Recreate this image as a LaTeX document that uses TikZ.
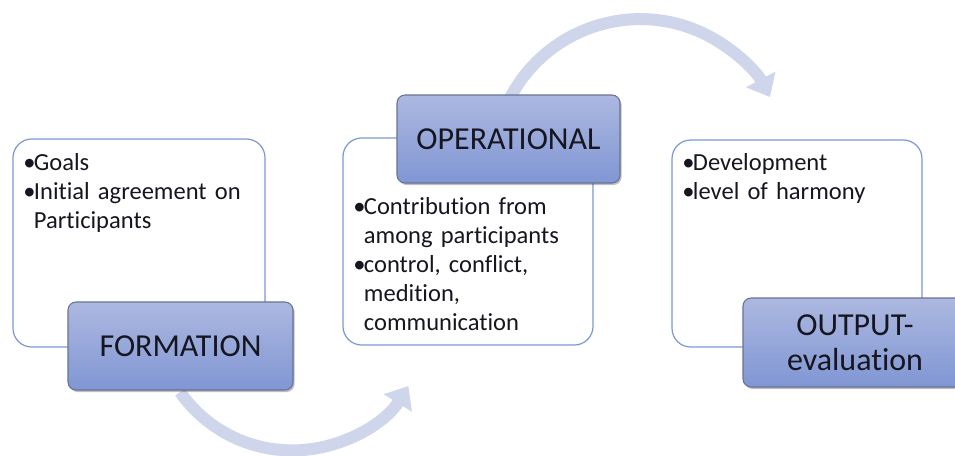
\documentclass[tikz,border=0pt]{standalone}
\usepackage{fontspec}
\setmainfont{Carlito}[Ligatures=NoCommon]
\usetikzlibrary{arrows.meta,shadows}
\definecolor{arcblue}{RGB}{207,214,236}
\definecolor{frameblue}{RGB}{124,152,212}
\definecolor{stagetop}{RGB}{172,184,224}
\definecolor{stagebot}{RGB}{128,150,211}
\definecolor{stageedge}{RGB}{105,115,145}
\definecolor{ink}{RGB}{22,22,32}
\newcommand{\bul}{\makebox[8pt][l]{•}}
\newcommand{\cont}{\hspace*{8pt}}

\begin{document}
\begin{tikzpicture}[x=0.75pt,y=-0.75pt,
  infobox/.style={draw=frameblue, line width=0.9pt, rounded corners=14pt, fill=white},
  stagebox/.style={draw=stageedge, line width=0.8pt, rounded corners=6pt,
    top color=stagetop, bottom color=stagebot, text=ink, align=center,
    font=\fontsize{24}{26}\selectfont,
    drop shadow={shadow xshift=1.2pt, shadow yshift=-1.5pt, fill=black, opacity=0.25}},
  bullets/.style={anchor=base west, inner sep=0pt, text width=184pt, align=left,
    font=\fontsize{18.4}{21.75}\selectfont, text=ink},
  flow/.style={draw=arcblue, line width=9pt, -{Triangle[width=24pt,length=15pt]}}
]
\useasboundingbox (0,0) rectangle (955,455);
\clip (0,0) rectangle (955,455);

% curved arrows between the stages
\coordinate (a1s) at (180,392);
\coordinate (a2s) at (510,98);
\draw[flow] (a1s) arc[start angle=145, end angle=32, radius=137];
\draw[flow] (a2s) arc[start angle=207.6, end angle=332, radius=147];

% content boxes
\node[infobox, minimum width=189pt, minimum height=156pt] (formbox) at (139,243) {};
\node[infobox, minimum width=187.5pt, minimum height=155.25pt] (operbox) at (468,241.5) {};
\node[infobox, minimum width=187.5pt, minimum height=155.25pt] (outbox) at (797,243.5) {};

\node[bullets] (formtxt) at (23,170) {\bul Goals\\ \bul Initial agreement on\\ \cont Participants};
\node[bullets] (opertxt) at (353,214) {\bul Contribution from\\ \cont among participants\\ \bul control, conflict,\\ \cont medition,\\ \cont communication};
\node[bullets] (outtxt) at (682,170) {\bul Development\\ \bul level of harmony};

% stage titles
\node[stagebox, minimum width=168.75pt, minimum height=66pt] (form) at (180.5,346) {FORMATION};
\node[stagebox, minimum width=167.25pt, minimum height=66pt] (oper) at (508.5,139) {OPERATIONAL};
\node[stagebox, minimum width=168pt, minimum height=66.75pt] (out) at (855,342.5) {OUTPUT-\\evaluation};
\end{tikzpicture}
\end{document}
